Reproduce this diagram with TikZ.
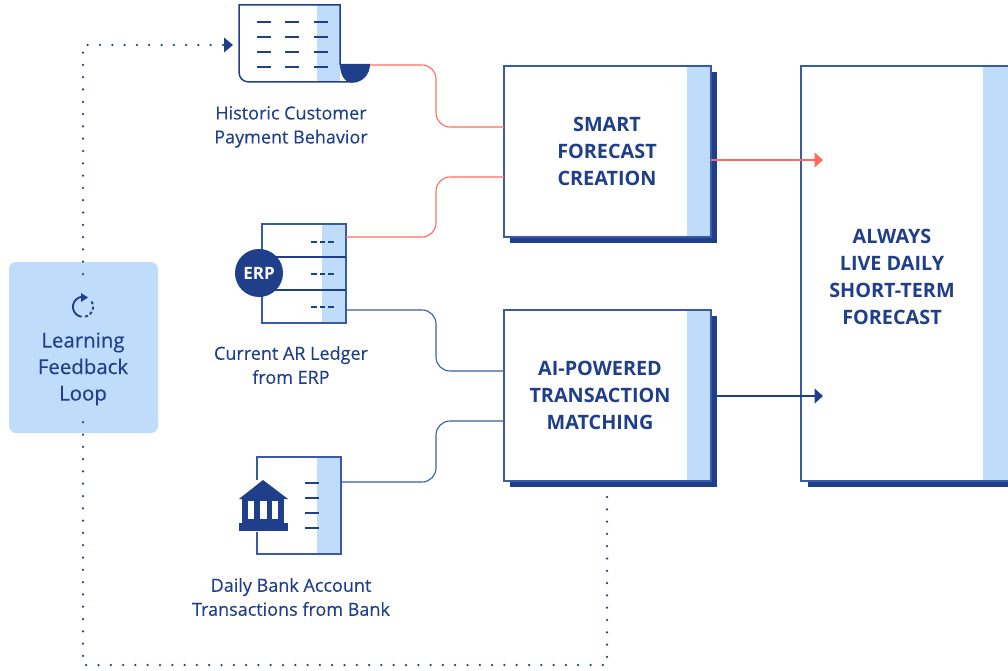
\documentclass[tikz,border=0pt]{standalone}
\usepackage{fontspec}
\setmainfont{Open Sans}
\newfontfamily\labelfont[FakeBold=0.25]{Open Sans}
\usetikzlibrary{arrows.meta}

\definecolor{navy}{HTML}{1F3F8A}
\definecolor{edgeblue}{HTML}{3A5AA6}
\definecolor{paleblue}{HTML}{BFDCFB}
\definecolor{coral}{HTML}{FF6B5C}

\tikzset{
	panel/.style={draw=edgeblue,line width=1.3pt,fill=white,inner sep=0pt,outer sep=0pt,anchor=north west},
	strip/.style={fill=paleblue,draw=none},
	shadowbar/.style={fill=navy,draw=none},
	title/.style={font=\fontsize{19.8}{27}\selectfont\bfseries,text=navy,align=center},
	caption/.style={font=\labelfont\fontsize{18}{24}\selectfont,text=navy,align=center},
	tick/.style={draw=navy,line width=1.6pt},
	redline/.style={draw=coral,line width=1.1pt,rounded corners=14pt},
	blueline/.style={draw=edgeblue,line width=1.1pt,rounded corners=14pt},
	dots/.style={draw=navy,line width=2.5pt,line cap=round,dash pattern=on 0pt off 12.3pt},
	tip/.style={-{Triangle[length=8.5pt,width=15pt]}}
}

\begin{document}
\begin{tikzpicture}[x=1pt,y=-1pt]
\useasboundingbox (0,0) rectangle (1008,671);

% feedback loop
\node[fill=paleblue,rounded corners=7pt,minimum width=149pt,minimum height=171pt,anchor=north west,inner sep=0pt,outer sep=0pt] (loop) at (9,262) {};
\node[font=\labelfont\fontsize{20.4}{26.5}\selectfont,text=navy,align=center] (looptext) at (83,369) {Learning\\Feedback\\Loop};
\draw[navy,line width=1.9pt] plot[domain=85:262,samples=24] ({83+10*cos(\x)},{306.8-10*sin(\x)});
\fill[navy] (81,293) -- (88,297.5) -- (81,302) -- cycle;
\draw[navy,line width=1.9pt,dash pattern=on 3pt off 2.4pt] plot[domain=-78:35,samples=24] ({83+10*cos(\x)},{306.8-10*sin(\x)});

% dotted return
\coordinate (d1) at (83,274);
\coordinate (d2) at (83,45);
\coordinate (d3) at (233,45);
\coordinate (d4) at (607,497);
\coordinate (d5) at (607,665);
\coordinate (d6) at (83,665);
\coordinate (d7) at (83,422);
\draw[dots] (d1) -- (d2) -- (224,45);
\fill[navy] (224,37.5) -- (d3) -- (224,52.5) -- cycle;
\draw[dots] (d4) -- (d5) -- (d6) -- (d7);

% payment history sheet
\coordinate (hist) at (370,65);
\fill[strip] (317,5) rectangle (340,82);
\draw[navy,line width=1.5pt] (340,65) -- (340,5) -- (239,5) -- (239,72) .. controls (239,78) and (243,82) .. (249,82) -- (352,82);
\fill[navy] (340,64) -- (370,64) .. controls (370,75) and (362,82.8) .. (352,82.8) .. controls (345,82.8) and (340,75) .. (340,64);
\foreach \y in {22,37,52,67}
{
	\foreach \x in {257,285,314}
	{
		\draw[tick] (\x,\y) -- ++(13.5,0);
	};
};
\node[caption] (histtext) at (291,127) {Historic Customer\\Payment Behavior};

% erp ledger
\node[panel,minimum width=84pt,minimum height=99pt] (erp) at (262,224) {};
\fill[strip] (322,224) rectangle (346,323);
\draw[edgeblue,line width=1.5pt] (erp.north west) rectangle (erp.south east);
\foreach \y in {257,290}
{
	\draw[navy,line width=1.5pt] (262,\y) -- (346,\y);
};
\foreach \y in {242,274,307}
{
	\draw[navy,line width=1.5pt,dash pattern=on 5.5pt off 3pt] (311,\y) -- (335,\y);
};
\node[circle,fill=navy,text=white,minimum size=48pt,inner sep=0pt,font=\fontsize{17}{17}\selectfont\bfseries] (erpbadge) at (259,273) {ERP};
\node[caption] (erptext) at (291,365) {Current AR Ledger\\from ERP};

% bank statement
\node[panel,minimum width=84pt,minimum height=97pt] (bank) at (257,457) {};
\fill[strip] (317,457) rectangle (341,554);
\draw[edgeblue,line width=1.5pt] (bank.north west) rectangle (bank.south east);
\foreach \y in {483,498,513,528}
{
	\draw[tick] (305,\y) -- ++(14,0);
};
\fill[white] (238,480) rectangle (289,532);
\fill[navy] (263,480) -- (288,499) -- (239,499) -- cycle;
\fill[navy] (242,499) rectangle (284,524);
\fill[navy] (239,523) rectangle (288,531);
\foreach \x/\w in {248/6,260/7,272/6}
{
	\fill[white] (\x,500.5) rectangle ++(\w,18);
};
\node[caption] (banktext) at (291,597) {Daily Bank Account\\Transactions from Bank};

% process boxes
\foreach \name/\y in {smart/66,match/310}
{
	\fill[shadowbar] (510,\y+6) rectangle (717,\y+177);
	\node[panel,minimum width=207pt,minimum height=171pt] (\name) at (504,\y) {};
	\fill[strip] (687,\y) rectangle (711,\y+171);
	\draw[edgeblue,line width=1.3pt] (\name.north west) rectangle (\name.south east);
};
\node[title] (smarttext) at (607,151) {SMART\\FORECAST\\CREATION};
\node[title] (matchtext) at (600,395) {AI-POWERED\\TRANSACTION\\MATCHING};

% output box, runs off the page
\fill[shadowbar] (808,72) rectangle (1008,487);
\node[minimum width=207pt,minimum height=415pt,fill=white,inner sep=0pt,outer sep=0pt,anchor=north west] (live) at (801,66) {};
\fill[strip] (983,66) rectangle (1008,481);
\draw[edgeblue,line width=1.3pt] (live.north east) -- (live.north west) -- (live.south west) -- (live.south east);
\node[title] (livetext) at (892,277) {ALWAYS\\LIVE DAILY\\SHORT-TERM\\FORECAST};

% connectors
\draw[redline] (hist) -- (436,65) -- (436,127) -- (smart.west |- 0,127);
\draw[redline] (erp.east |- 0,237) -- (436,237) -- (436,177) -- (smart.west |- 0,177);
\draw[blueline] (erp.east |- 0,310) -- (436,310) -- (436,371) -- (match.west |- 0,371);
\draw[blueline] (bank.east |- 0,482) -- (436,482) -- (436,421) -- (match.west |- 0,421);
\coordinate (outa) at (823,160);
\coordinate (outb) at (823,396);
\draw[coral,line width=1.2pt,tip] (smart.east |- outa) -- (outa);
\draw[navy,line width=1.2pt,tip] (717,396) -- (outb);
\end{tikzpicture}
\end{document}
